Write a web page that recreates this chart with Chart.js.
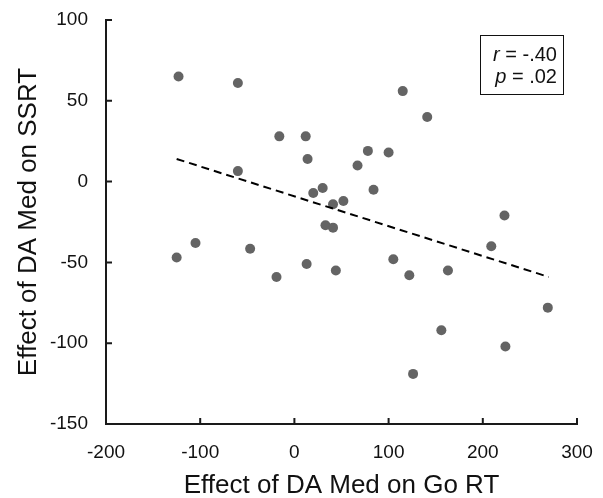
<!DOCTYPE html>
<html lang="en">
  <head>
    <meta charset="UTF-8">
    <title>Effect of DA Med on SSRT vs Go RT</title>
    <script src="https://cdn.jsdelivr.net/npm/chart.js"></script>
    <style>
      body {
        margin: 0;
        background: #fff;
        font-family: "Liberation Sans", Arial, sans-serif
      }

      .wrap {
        position: relative;
        width: 603px;
        height: 498px
      }

      .stats {
        position: absolute;
        left: 480px;
        top: 35px;
        width: 82px;
        height: 58px;
        border: 1.5px solid #111;
        font-size: 20px;
        line-height: 22px;
        color: #111;
        text-align: right
      }

      .stats div {
        padding-right: 6px
      }

      .stats .first {
        margin-top: 7px
      }
    </style>
  </head>
  <body>
    <div class="wrap">
      <canvas id="chart"></canvas>
      <div class="stats">
        <div class="first"><i>r</i> = -.40</div>
        <div><i>p</i> = .02</div>
      </div>
    </div>
    <script>
      // values
      const goRtEffect = [-123, -60, -16, 12, 14, -60, 20, 30, 41, 52, 115, 141, 78, 100, 67, 84, 223,
        -125, -105, -47, -19, 13, 44, 33, 41, 209, 105, 122, 163, 269, 156, 224, 126];
      const ssrtEffect = [65, 61, 28, 28, 14, 6.5, -7, -4, -14, -12, 56, 40, 19, 18, 10, -5, -21,
        -47, -38, -41.5, -59, -51, -55, -27, -28.5, -40, -48, -58, -55, -78, -92, -102, -119];
      const fitX = [-125, 270];
      const fitY = [14, -59];
      const xTicks = [-200, -100, 0, 100, 200, 300];
      const yTicks = [-150, -100, -50, 0, 50, 100];

      const axisColor = '#1a1a1a';
      const fontFamily = '"Liberation Sans", Arial, sans-serif';

      // ticks point into the plot area, so draw them by hand
      const innerTicks = {
        id: 'innerTicks',
        afterDraw(chart) {
          const c = chart.ctx;
          const xs = chart.scales.x, ys = chart.scales.y;
          const a = chart.chartArea;
          c.save();
          c.strokeStyle = axisColor;
          c.lineWidth = 2;
          c.beginPath();
          xTicks.forEach(v => {
            const px = xs.getPixelForValue(v);
            c.moveTo(px, a.bottom);
            c.lineTo(px, a.bottom - 6);
          });
          yTicks.forEach(v => {
            const py = ys.getPixelForValue(v);
            c.moveTo(a.left, py);
            c.lineTo(a.left + 6, py);
          });
          c.stroke();
          c.restore();
        }
      };

      const ctx = document.getElementById('chart').getContext('2d');
      new Chart(ctx, {
        type: 'scatter',
        data: {
          datasets: [{
            type: 'line',
            data: fitX.map((x, i) => ({ x: x, y: fitY[i] })),
            borderColor: '#000',
            borderWidth: 2,
            borderDash: [8, 5],
            pointRadius: 0,
            fill: false,
            order: 0
          }, {
            data: goRtEffect.map((x, i) => ({ x: x, y: ssrtEffect[i] })),
            backgroundColor: '#646464',
            borderColor: '#646464',
            borderWidth: 0,
            pointRadius: 5,
            order: 1
          }]
        },
        options: {
          responsive: true,
          maintainAspectRatio: false,
          animation: false,
          layout: {
            padding: 0
          },
          plugins: {
            legend: { display: false },
            tooltip: { enabled: false }
          },
          scales: {
            x: {
              type: 'linear',
              min: xTicks[0],
              max: xTicks[xTicks.length - 1],
              afterBuildTicks: s => { s.ticks = xTicks.map(v => ({ value: v })); },
              afterFit: s => {
                s.height = 74;
                s.paddingLeft = 0;
                s.paddingRight = 26;
              },
              grid: { display: false, drawTicks: false },
              border: { color: axisColor, width: 2 },
              ticks: {
                color: '#111',
                padding: 17,
                font: { family: fontFamily, size: 19 }
              },
              title: {
                display: true,
                text: 'Effect of DA Med on Go RT',
                color: '#111',
                padding: { top: -3, bottom: -3 },
                font: { family: fontFamily, size: 26 }
              }
            },
            y: {
              type: 'linear',
              min: yTicks[0],
              max: yTicks[yTicks.length - 1],
              afterBuildTicks: s => { s.ticks = yTicks.map(v => ({ value: v })); },
              afterFit: s => {
                s.width = 106;
                s.paddingTop = 20;
                s.paddingBottom = 0;
              },
              grid: { display: false, drawTicks: false },
              border: { color: axisColor, width: 2 },
              ticks: {
                color: '#111',
                padding: 18,
                font: { family: fontFamily, size: 19 }
              },
              title: {
                display: true,
                text: 'Effect of DA Med on SSRT',
                color: '#111',
                padding: { top: 13, bottom: 13 },
                font: { family: fontFamily, size: 26 }
              }
            }
          }
        },
        plugins: [innerTicks]
      });
    </script>
  </body>
</html>
